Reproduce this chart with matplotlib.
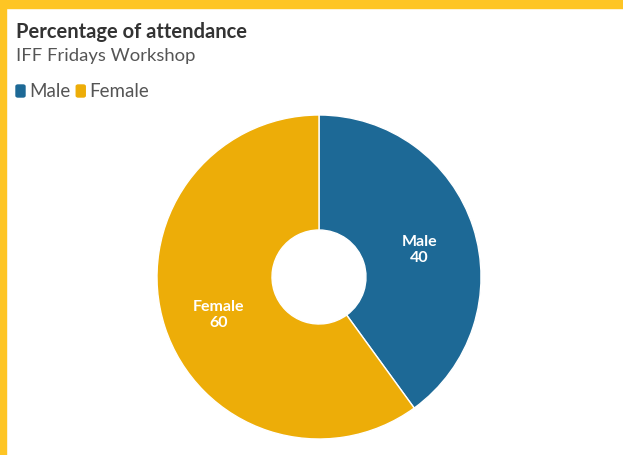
import matplotlib

matplotlib.use("Agg")
import matplotlib.pyplot as plt  # noqa: E402
import numpy as np  # noqa: E402
from matplotlib.patches import FancyBboxPatch, Rectangle  # noqa: E402

plt.rcParams["font.family"] = ["Lato", "DejaVu Sans"]

categories = ["Male", "Female"]
attendance = [40, 60]
colors = ["#1d6996", "#edad08"]

TITLE = "Percentage of attendance"
SUBTITLE = "IFF Fridays Workshop"

W, H = 623, 456
fig = plt.figure(figsize=(W / 100, H / 100), dpi=100)
fig.patch.set_facecolor("white")

# frame strips along top and left edge
border = "#fec524"
fig.patches.append(Rectangle((0, 1 - 9 / H), 1, 9 / H, transform=fig.transFigure, color=border, zorder=0))
fig.patches.append(Rectangle((0, 0), 6 / W, 1, transform=fig.transFigure, color=border, zorder=0))

fig.text(16 / W, 1 - 31.5 / H, TITLE, fontsize=14.5, fontweight="bold", color="#333333", va="center")
fig.text(16 / W, 1 - 55.5 / H, SUBTITLE, fontsize=13.3, color="#555555", va="center")

# legend row
x = 16
for name, color in zip(categories, colors):
    fig.patches.append(
        FancyBboxPatch((x / W, 1 - 98 / H), 9 / W, 12 / H, boxstyle="round,pad=0,rounding_size=0.003",
                       transform=fig.transFigure, color=color)
    )
    t = fig.text((x + 13) / W, 1 - 92 / H, name, fontsize=13.5, color="#555555", va="center")
    fig.canvas.draw()
    x = t.get_window_extent().x1 + 6

cx, cy, r = 319, 278, 162
ax = fig.add_axes([(cx - r) / W, (H - cy - r) / H, 2 * r / W, 2 * r / H])
wedges, _ = ax.pie(
    attendance,
    colors=colors,
    startangle=90,
    counterclock=False,
    radius=1,
    wedgeprops=dict(width=1 - 47 / r, edgecolor="white", linewidth=1),
)
for wedge, name, value in zip(wedges, categories, attendance):
    ang = np.deg2rad((wedge.theta1 + wedge.theta2) / 2)
    ax.text(0.65 * np.cos(ang), 0.65 * np.sin(ang) - 0.03, f"{name}\n{value}", ha="center", va="center",
            color="white", fontsize=11.5, fontweight="bold", linespacing=1.2)
ax.set_xlim(-1, 1)
ax.set_ylim(-1, 1)
ax.set_aspect("auto")
ax.axis("off")

fig.savefig("out.png", dpi=100)
